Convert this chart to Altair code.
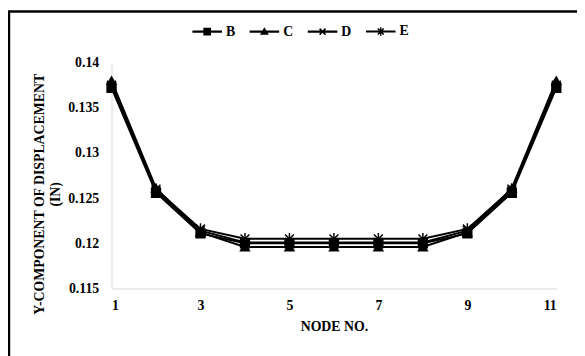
import altair as alt
import pandas as pd

nodes = [1, 2, 3, 4, 5, 6, 7, 8, 9, 10, 11]
series_names = ["B", "C", "D", "E"]
B = [0.1372, 0.1256, 0.1211, 0.1200, 0.1200, 0.1200, 0.1200, 0.1200, 0.1211, 0.1256, 0.1372]
C = [0.1380, 0.1261, 0.1212, 0.1196, 0.1196, 0.1196, 0.1196, 0.1196, 0.1212, 0.1261, 0.1380]
D = [0.1375, 0.1258, 0.1214, 0.1201, 0.1201, 0.1201, 0.1201, 0.1201, 0.1214, 0.1258, 0.1375]
E = [0.1374, 0.1260, 0.1216, 0.1205, 0.1205, 0.1205, 0.1205, 0.1205, 0.1216, 0.1260, 0.1374]
x_ticks = [1, 3, 5, 7, 9, 11]
y_ticks = [0.115, 0.12, 0.125, 0.13, 0.135, 0.14]

rows = []
for name, vals in zip(series_names, [B, C, D, E]):
    for n, v in zip(nodes, vals):
        rows.append({"node": n, "value": v, "series": name})
df = pd.DataFrame(rows)

FONT = "Liberation Serif"
FS = 14
W, H = 451, 229

X_PATH = "M-1,-1L1,1M-1,1L1,-1"
STAR_PATH = "M-1,-1L1,1M-1,1L1,-1M0,-1.3V1.3"

# legend symbols: filled polygons (line stub + marker), unit = 15px
STUB = "M-1,-0.07H1V0.07H-1Z"
DIAG1 = "M-0.162,-0.238L0.238,0.162L0.162,0.238L-0.238,-0.162Z"
DIAG2 = "M-0.238,0.162L0.162,-0.238L0.238,-0.162L-0.162,0.238Z"
VBAR = "M-0.047,-0.28H0.047V0.28H-0.047Z"
LEG_SQ = STUB + "M-0.26,-0.26H0.26V0.26H-0.26Z"
LEG_TRI = STUB + "M0,-0.3L0.3,0.22H-0.3Z"
LEG_X = STUB + DIAG1 + DIAG2
LEG_STAR = STUB + DIAG1 + DIAG2 + VBAR

x_enc = alt.X("node:Q", scale=alt.Scale(domain=[1, 11], nice=False, zero=False),
              axis=alt.Axis(values=x_ticks, title="NODE NO.", grid=False, ticks=False,
                            domainColor="#d9d9d9", labelPadding=10, titlePadding=8))
y_enc = alt.Y("value:Q", scale=alt.Scale(domain=[0.115, 0.14], nice=False, zero=False),
              axis=alt.Axis(values=y_ticks, format="~g", grid=False, ticks=False,
                            domainColor="#d9d9d9", labelPadding=13,
                            title=["Y-COMPONENT OF DISPLACEMENT", "(IN)"],
                            titleX=-73, titleY=133, titleAlign="center",
                            titleBaseline="middle", titleAngle=270))

base = alt.Chart(df)

lines = base.mark_line(color="black", strokeWidth=2).encode(
    x=x_enc, y=y_enc, detail="series:N")

points = base.mark_point(fill="black", stroke="black", strokeWidth=1.5, size=80,
                         opacity=1, fillOpacity=1).encode(
    x=x_enc, y=y_enc,
    shape=alt.Shape("series:N",
                    scale=alt.Scale(domain=series_names,
                                    range=["square", "triangle-up", X_PATH, STAR_PATH]),
                    legend=None))

legend_layer = base.transform_filter("false").mark_point(
    filled=True, color="black", opacity=1).encode(
    x=x_enc, y=y_enc,
    shape=alt.Shape("series:N",
                    scale=alt.Scale(domain=series_names,
                                    range=[LEG_SQ, LEG_TRI, LEG_X, LEG_STAR]),
                    legend=alt.Legend(orient="none", legendX=81, legendY=-48,
                                      direction="horizontal", title=None,
                                      symbolSize=900, symbolFillColor="black",
                                      symbolOpacity=1, labelFont=FONT, labelFontSize=FS,
                                      labelFontWeight="bold", labelColor="black",
                                      labelOffset=3, columnPadding=11)))

border = alt.Chart(pd.DataFrame({"a": [0]})).mark_rect(
    fillOpacity=0, stroke="black", strokeWidth=2.5, clip=False).encode(
    x=alt.value(-104), x2=alt.value(W + 60), y=alt.value(-52), y2=alt.value(H + 120))

chart = alt.layer(border, lines, points, legend_layer).resolve_scale(
    shape="independent"
).properties(
    width=W, height=H,
    autosize=alt.AutoSizeParams(type="none"),
    padding={"left": 105, "top": 53, "right": 21, "bottom": 66},
    background="white",
).configure_view(stroke=None).configure_axis(
    labelFont=FONT, labelFontSize=FS, labelFontWeight="bold", labelColor="black",
    titleFont=FONT, titleFontSize=FS, titleFontWeight="bold", titleColor="black",
)

chart.save("out.html", embed_options={"renderer": "svg", "actions": False})
